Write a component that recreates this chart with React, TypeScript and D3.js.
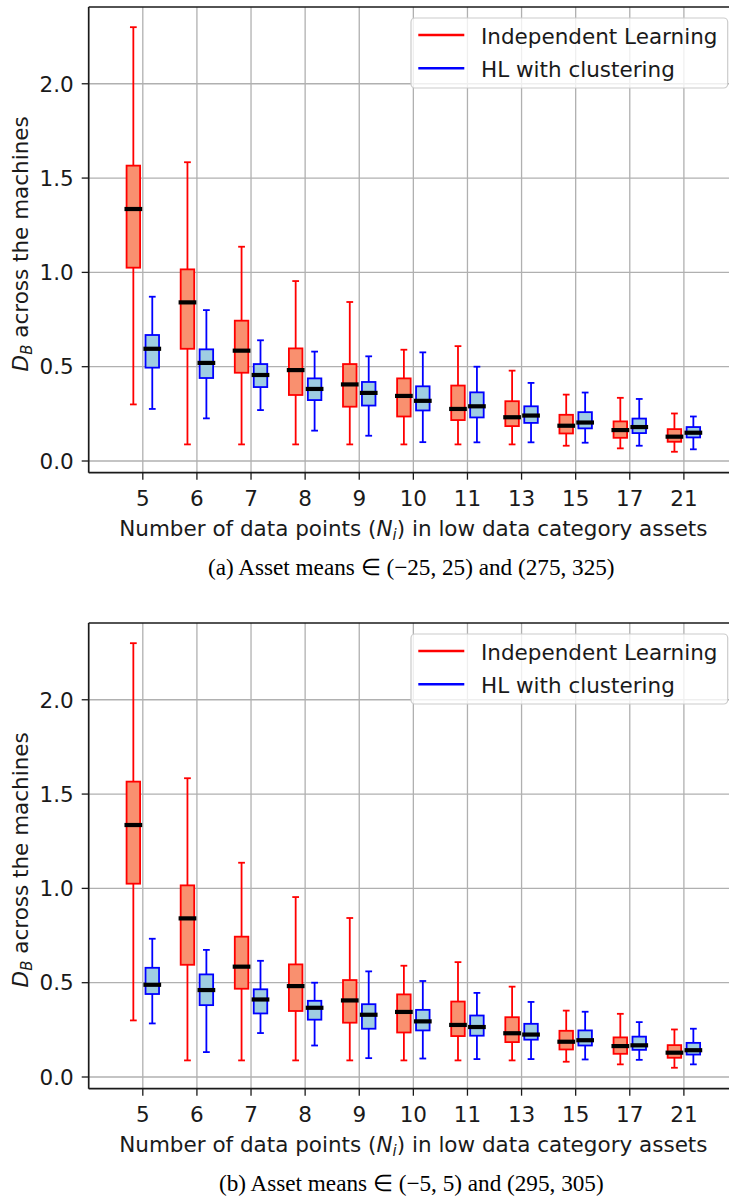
import React from "react";
import * as d3 from "d3";

const categories = ["5", "6", "7", "8", "9", "10", "11", "13", "15", "17", "21"];
const yTicks = [0, 0.5, 1.0, 1.5, 2.0];

// Independent Learning (same in both panels)
const indepLow = [0.30, 0.088, 0.088, 0.088, 0.088, 0.088, 0.088, 0.088, 0.081, 0.067, 0.049];
const indepQ1 = [1.025, 0.595, 0.468, 0.35, 0.288, 0.236, 0.217, 0.185, 0.146, 0.123, 0.102];
const indepMed = [1.336, 0.841, 0.585, 0.482, 0.406, 0.345, 0.276, 0.232, 0.187, 0.164, 0.129];
const indepQ3 = [1.566, 1.016, 0.744, 0.597, 0.514, 0.438, 0.4, 0.317, 0.245, 0.21, 0.169];
const indepHigh = [2.30, 1.584, 1.136, 0.954, 0.843, 0.59, 0.609, 0.479, 0.352, 0.335, 0.252];

// HL with clustering, panel (a)
const hlaLow = [0.276, 0.226, 0.27, 0.161, 0.134, 0.1, 0.099, 0.099, 0.097, 0.081, 0.062];
const hlaQ1 = [0.495, 0.44, 0.392, 0.323, 0.294, 0.268, 0.231, 0.202, 0.173, 0.148, 0.125];
const hlaMed = [0.595, 0.52, 0.456, 0.382, 0.361, 0.319, 0.29, 0.241, 0.204, 0.18, 0.15];
const hlaQ3 = [0.668, 0.592, 0.514, 0.438, 0.419, 0.396, 0.364, 0.29, 0.259, 0.225, 0.18];
const hlaHigh = [0.871, 0.8, 0.64, 0.58, 0.555, 0.576, 0.5, 0.414, 0.363, 0.329, 0.236];

// HL with clustering, panel (b)
const hlbLow = [0.284, 0.132, 0.233, 0.167, 0.1, 0.098, 0.095, 0.095, 0.093, 0.091, 0.067];
const hlbQ1 = [0.44, 0.381, 0.337, 0.304, 0.256, 0.247, 0.219, 0.198, 0.167, 0.144, 0.119];
const hlbMed = [0.489, 0.461, 0.411, 0.367, 0.33, 0.295, 0.265, 0.225, 0.195, 0.168, 0.142];
const hlbQ3 = [0.579, 0.544, 0.465, 0.404, 0.386, 0.356, 0.326, 0.282, 0.247, 0.214, 0.181];
const hlbHigh = [0.733, 0.674, 0.616, 0.5, 0.56, 0.509, 0.446, 0.398, 0.346, 0.291, 0.256];

const seriesNames = ["Independent Learning", "HL with clustering"];
const captionA = "(a) Asset means ∈ (−25, 25) and (275, 325)";
const captionB = "(b) Asset means ∈ (−5, 5) and (295, 305)";

const FONT = "'DejaVu Sans', sans-serif";
const SERIF = "'Liberation Serif', 'Times New Roman', serif";
const FS = 21.5;

type Stats = { low: number[]; q1: number[]; med: number[]; q3: number[]; high: number[] };

const indep: Stats = { low: indepLow, q1: indepQ1, med: indepMed, q3: indepQ3, high: indepHigh };
const hla: Stats = { low: hlaLow, q1: hlaQ1, med: hlaMed, q3: hlaQ3, high: hlaHigh };
const hlb: Stats = { low: hlbLow, q1: hlbQ1, med: hlbMed, q3: hlbQ3, high: hlbHigh };

const W = 729;

function Boxes({ s, off, stroke, fill, x, y }: any) {
  const bw = 0.25;
  return (
    <g>
      {categories.map((c, i) => {
        const cx = x(i + 1 + off);
        const x0 = x(i + 1 + off - bw / 2);
        const x1 = x(i + 1 + off + bw / 2);
        const capW = (x1 - x0) / 2;
        return (
          <g key={c}>
            <line x1={cx} x2={cx} y1={y(s.q3[i])} y2={y(s.high[i])} stroke={stroke} strokeWidth={1.8} />
            <line x1={cx} x2={cx} y1={y(s.q1[i])} y2={y(s.low[i])} stroke={stroke} strokeWidth={1.8} />
            <line x1={cx - capW / 2} x2={cx + capW / 2} y1={y(s.high[i])} y2={y(s.high[i])} stroke={stroke} strokeWidth={1.8} />
            <line x1={cx - capW / 2} x2={cx + capW / 2} y1={y(s.low[i])} y2={y(s.low[i])} stroke={stroke} strokeWidth={1.8} />
            <rect x={x0} y={y(s.q3[i])} width={x1 - x0} height={y(s.q1[i]) - y(s.q3[i])} fill={fill} stroke={stroke} strokeWidth={1.8} />
            <line x1={x0} x2={x1} y1={y(s.med[i])} y2={y(s.med[i])} stroke="#000" strokeWidth={4.2} strokeLinecap="square" />
          </g>
        );
      })}
    </g>
  );
}

function Panel({ top, blue, caption }: { top: number; blue: Stats; caption: string }) {
  const left = 88.7;
  const plotTop = top + 7;
  const plotBottom = top + 472.7;
  const x = d3.scaleLinear().domain([0, 12]).range([left, 738]);
  const y = d3.scaleLinear().domain([-0.062, 2.407]).range([plotBottom, plotTop]);
  const fmt = d3.format(".1f");
  const midY = (plotTop + plotBottom) / 2;
  return (
    <g>
      {yTicks.map((t) => (
        <line key={"gy" + t} x1={left} x2={W} y1={y(t)} y2={y(t)} stroke="#b0b0b0" strokeWidth={1.3} />
      ))}
      {categories.map((c, i) => (
        <line key={"gx" + c} x1={x(i + 1)} x2={x(i + 1)} y1={plotTop} y2={plotBottom} stroke="#b0b0b0" strokeWidth={1.3} />
      ))}
      <Boxes s={indep} off={-0.175} stroke="#ff0000" fill="#f9906f" x={x} y={y} />
      <Boxes s={blue} off={0.175} stroke="#0000ff" fill="#9fcde2" x={x} y={y} />
      <line x1={left} x2={left} y1={plotTop} y2={plotBottom} stroke="#1a1a1a" strokeWidth={1.7} />
      <line x1={left} x2={W} y1={plotBottom} y2={plotBottom} stroke="#1a1a1a" strokeWidth={1.7} />
      <line x1={left} x2={W} y1={plotTop} y2={plotTop} stroke="#1a1a1a" strokeWidth={1.7} />
      {yTicks.map((t) => (
        <g key={"ty" + t}>
          <line x1={left - 7} x2={left} y1={y(t)} y2={y(t)} stroke="#1a1a1a" strokeWidth={1.3} />
          <text x={left - 15} y={y(t)} dy="0.36em" textAnchor="end" fontFamily={FONT} fontSize={FS} fill="#1a1a1a">
            {fmt(t)}
          </text>
        </g>
      ))}
      {categories.map((c, i) => (
        <g key={"tx" + c}>
          <line x1={x(i + 1)} x2={x(i + 1)} y1={plotBottom} y2={plotBottom + 7} stroke="#1a1a1a" strokeWidth={1.3} />
          <text x={x(i + 1)} y={plotBottom + 33.5} textAnchor="middle" fontFamily={FONT} fontSize={FS} fill="#1a1a1a">
            {c}
          </text>
        </g>
      ))}
      <text x={(left + 738) / 2} y={plotBottom + 63.5} textAnchor="middle" fontFamily={FONT} fontSize={FS} fill="#1a1a1a">
        Number of data points (<tspan fontStyle="italic">N</tspan>
        <tspan fontStyle="italic" fontSize={15} dy={4}>i</tspan>
        <tspan dy={-4}>) in low data category assets</tspan>
      </text>
      <text transform={`translate(28, ${midY + 4}) rotate(-90)`} textAnchor="middle" fontFamily={FONT} fontSize={FS} fill="#1a1a1a">
        <tspan fontStyle="italic">D</tspan>
        <tspan fontStyle="italic" fontSize={15} dy={4}>B</tspan>
        <tspan dy={-4}> across the machines</tspan>
      </text>
      <rect x={411} y={top + 18} width={316.7} height={70} rx={4} fill="#fff" fillOpacity={0.8} stroke="#cccccc" strokeWidth={1.2} />
      <line x1={418.3} x2={464.3} y1={top + 35} y2={top + 35} stroke="#ff0000" strokeWidth={2.6} />
      <line x1={418.3} x2={464.3} y1={top + 68.3} y2={top + 68.3} stroke="#0000ff" strokeWidth={2.6} />
      <text x={481} y={top + 43.5} fontFamily={FONT} fontSize={FS} fill="#1a1a1a">{seriesNames[0]}</text>
      <text x={481} y={top + 76.5} fontFamily={FONT} fontSize={FS} fill="#1a1a1a">{seriesNames[1]}</text>
      <text x={411.3} y={top + 575} textAnchor="middle" fontFamily={SERIF} fontSize={23.2} fill="#000">
        {caption}
      </text>
    </g>
  );
}

export default function App() {
  return (
    <svg width={W} height={1196} style={{ position: "absolute", left: 0, top: 0, background: "#fff" }}>
      <rect x={0} y={0} width={W} height={1196} fill="#fff" />
      <Panel top={0} blue={hla} caption={captionA} />
      <Panel top={616} blue={hlb} caption={captionB} />
    </svg>
  );
}
